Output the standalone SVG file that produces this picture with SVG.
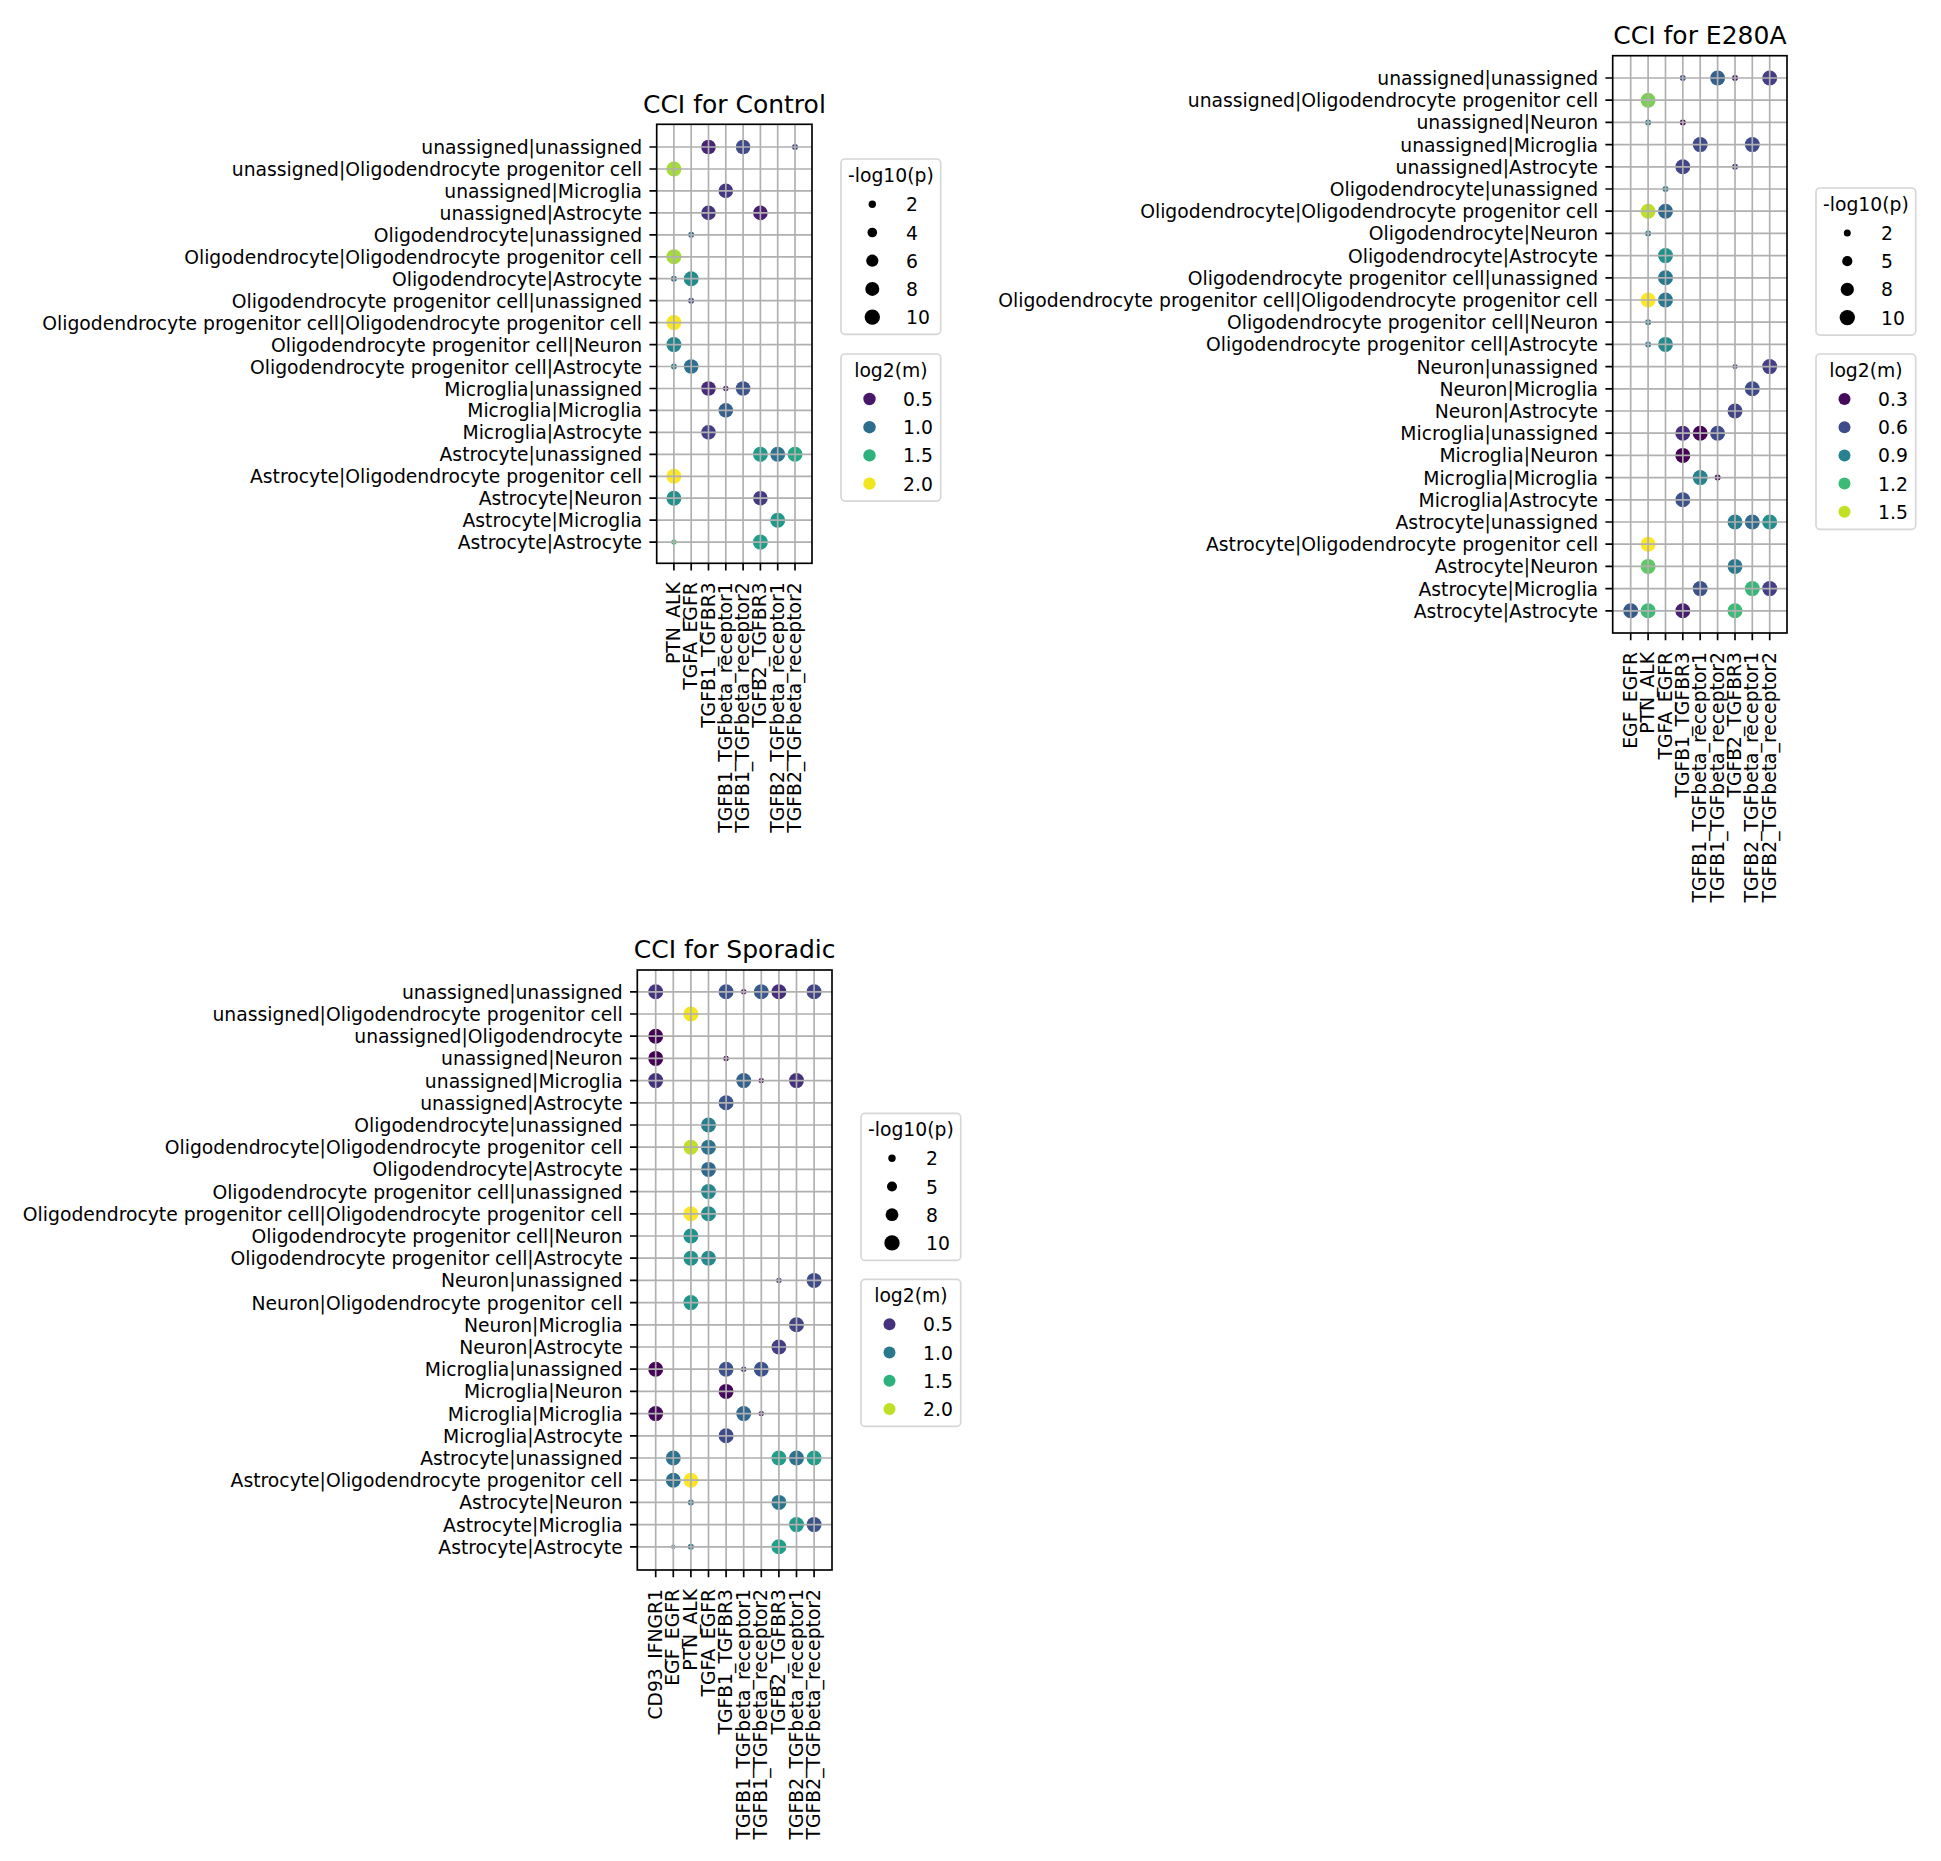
<svg xmlns="http://www.w3.org/2000/svg" width="1941" height="1861" viewBox="0 0 1941 1861">
<style>
text{font-family:"DejaVu Sans","Liberation Sans",sans-serif;font-size:18.75px;fill:#000}
.yl{text-anchor:end}
.xl{text-anchor:end}
.title{font-size:25px;text-anchor:middle}
.lt{text-anchor:middle}
.grid{fill:none;stroke:#b0b0b0;stroke-width:1.67}
.spine{fill:none;stroke:#000;stroke-width:1.67}
.tick{fill:none;stroke:#000;stroke-width:1.67}
.leg{fill:#fff;fill-opacity:0.8;stroke:#d6d6d6;stroke-width:1.67}
</style>
<rect width="1941" height="1861" fill="#fff"/>

<!-- ===================== CONTROL ===================== -->
<g id="panel-control">
<text class="title" x="734.4" y="112.8">CCI for Control</text>
<g id="control-dots">
<circle cx="708.5" cy="147" r="7.3" fill="#482475"/>
<circle cx="743.1" cy="147" r="7.3" fill="#3e4a89"/>
<circle cx="795.0" cy="147" r="3" fill="#3e4a89"/>
<circle cx="673.9" cy="169" r="7.5" fill="#a5db36"/>
<circle cx="725.8" cy="190.9" r="7.3" fill="#453781"/>
<circle cx="708.5" cy="212.9" r="7.3" fill="#46337f"/>
<circle cx="760.4" cy="212.9" r="7.3" fill="#481f70"/>
<circle cx="691.2" cy="234.8" r="3" fill="#31688e"/>
<circle cx="673.9" cy="256.8" r="7.5" fill="#a5db36"/>
<circle cx="673.9" cy="278.7" r="3" fill="#31688e"/>
<circle cx="691.2" cy="278.7" r="7.5" fill="#228c8d"/>
<circle cx="691.2" cy="300.7" r="3" fill="#3e4a89"/>
<circle cx="673.9" cy="322.6" r="7.5" fill="#f8e621"/>
<circle cx="673.9" cy="344.6" r="7.5" fill="#25858e"/>
<circle cx="673.9" cy="366.5" r="3" fill="#2a788e"/>
<circle cx="691.2" cy="366.5" r="7.3" fill="#2e6e8e"/>
<circle cx="708.5" cy="388.5" r="7.3" fill="#482878"/>
<circle cx="725.8" cy="388.5" r="2.7" fill="#481769"/>
<circle cx="743.1" cy="388.5" r="7.3" fill="#3b528b"/>
<circle cx="725.8" cy="410.4" r="7.3" fill="#34608d"/>
<circle cx="708.5" cy="432.4" r="7.3" fill="#433e85"/>
<circle cx="760.4" cy="454.3" r="7.5" fill="#1f998a"/>
<circle cx="777.7" cy="454.3" r="7.5" fill="#2c718e"/>
<circle cx="795.0" cy="454.3" r="7.5" fill="#22a884"/>
<circle cx="673.9" cy="476.3" r="7.5" fill="#fde725"/>
<circle cx="673.9" cy="498.2" r="7.5" fill="#21918c"/>
<circle cx="760.4" cy="498.2" r="7.3" fill="#443a83"/>
<circle cx="777.7" cy="520.2" r="7.5" fill="#1f998a"/>
<circle cx="673.9" cy="542.1" r="2.7" fill="#3bbb75"/>
<circle cx="760.4" cy="542.1" r="7.5" fill="#1f9e89"/>
</g>
<path class="grid" d="M673.9 124.3V563.3M691.2 124.3V563.3M708.5 124.3V563.3M725.8 124.3V563.3M743.1 124.3V563.3M760.4 124.3V563.3M777.7 124.3V563.3M795 124.3V563.3
M656.7 147H812M656.7 169H812M656.7 190.9H812M656.7 212.9H812M656.7 234.8H812M656.7 256.8H812M656.7 278.7H812M656.7 300.7H812M656.7 322.6H812M656.7 344.6H812M656.7 366.5H812M656.7 388.5H812M656.7 410.4H812M656.7 432.4H812M656.7 454.3H812M656.7 476.3H812M656.7 498.2H812M656.7 520.2H812M656.7 542.1H812"/>
<path class="tick" d="M649.4 147H656.7M649.4 169H656.7M649.4 190.9H656.7M649.4 212.9H656.7M649.4 234.8H656.7M649.4 256.8H656.7M649.4 278.7H656.7M649.4 300.7H656.7M649.4 322.6H656.7M649.4 344.6H656.7M649.4 366.5H656.7M649.4 388.5H656.7M649.4 410.4H656.7M649.4 432.4H656.7M649.4 454.3H656.7M649.4 476.3H656.7M649.4 498.2H656.7M649.4 520.2H656.7M649.4 542.1H656.7
M673.9 563.3V570.6M691.2 563.3V570.6M708.5 563.3V570.6M725.8 563.3V570.6M743.1 563.3V570.6M760.4 563.3V570.6M777.7 563.3V570.6M795 563.3V570.6"/>
<rect class="spine" x="656.7" y="124.3" width="155.3" height="439"/>
<g id="control-ylabels">
<text class="yl" x="642.1" y="154">unassigned|unassigned</text>
<text class="yl" x="642.1" y="176">unassigned|Oligodendrocyte progenitor cell</text>
<text class="yl" x="642.1" y="197.9">unassigned|Microglia</text>
<text class="yl" x="642.1" y="219.9">unassigned|Astrocyte</text>
<text class="yl" x="642.1" y="241.8">Oligodendrocyte|unassigned</text>
<text class="yl" x="642.1" y="263.8">Oligodendrocyte|Oligodendrocyte progenitor cell</text>
<text class="yl" x="642.1" y="285.7">Oligodendrocyte|Astrocyte</text>
<text class="yl" x="642.1" y="307.7">Oligodendrocyte progenitor cell|unassigned</text>
<text class="yl" x="642.1" y="329.6">Oligodendrocyte progenitor cell|Oligodendrocyte progenitor cell</text>
<text class="yl" x="642.1" y="351.6">Oligodendrocyte progenitor cell|Neuron</text>
<text class="yl" x="642.1" y="373.5">Oligodendrocyte progenitor cell|Astrocyte</text>
<text class="yl" x="642.1" y="395.5">Microglia|unassigned</text>
<text class="yl" x="642.1" y="417.4">Microglia|Microglia</text>
<text class="yl" x="642.1" y="439.4">Microglia|Astrocyte</text>
<text class="yl" x="642.1" y="461.3">Astrocyte|unassigned</text>
<text class="yl" x="642.1" y="483.3">Astrocyte|Oligodendrocyte progenitor cell</text>
<text class="yl" x="642.1" y="505.2">Astrocyte|Neuron</text>
<text class="yl" x="642.1" y="527.2">Astrocyte|Microglia</text>
<text class="yl" x="642.1" y="549.1">Astrocyte|Astrocyte</text>
</g>
<g id="control-xlabels">
<text class="xl" transform="translate(679.9 582.3) rotate(-90)">PTN_ALK</text>
<text class="xl" transform="translate(697.2 582.3) rotate(-90)">TGFA_EGFR</text>
<text class="xl" transform="translate(714.5 582.3) rotate(-90)">TGFB1_TGFBR3</text>
<text class="xl" transform="translate(731.8 582.3) rotate(-90)">TGFB1_TGFbeta_receptor1</text>
<text class="xl" transform="translate(749.1 582.3) rotate(-90)">TGFB1_TGFbeta_receptor2</text>
<text class="xl" transform="translate(766.4 582.3) rotate(-90)">TGFB2_TGFBR3</text>
<text class="xl" transform="translate(783.7 582.3) rotate(-90)">TGFB2_TGFbeta_receptor1</text>
<text class="xl" transform="translate(801 582.3) rotate(-90)">TGFB2_TGFbeta_receptor2</text>
</g>
<g id="control-legend-size">
<rect class="leg" x="841" y="159" width="99.7" height="175.3" rx="4"/>
<text class="lt" x="890.9" y="182">-log10(p)</text>
<circle cx="872.3" cy="204.3" r="3.7"/><text x="906" y="211.3">2</text>
<circle cx="872.3" cy="232.5" r="4.8"/><text x="906" y="239.5">4</text>
<circle cx="872.3" cy="260.7" r="6.1"/><text x="906" y="267.7">6</text>
<circle cx="872.3" cy="288.9" r="7"/><text x="906" y="295.9">8</text>
<circle cx="872.3" cy="317.1" r="7.7"/><text x="906" y="324.1">10</text>
</g>
<g id="control-legend-hue">
<rect class="leg" x="841" y="354" width="99.7" height="147.1" rx="4"/>
<text class="lt" x="890.9" y="377">log2(m)</text>
<circle cx="869.5" cy="399" r="6.2" fill="#481769"/><text x="903" y="406">0.5</text>
<circle cx="869.5" cy="427.2" r="6.2" fill="#2f6d8e"/><text x="903" y="434.2">1.0</text>
<circle cx="869.5" cy="455.4" r="6.2" fill="#2db27d"/><text x="903" y="462.4">1.5</text>
<circle cx="869.5" cy="483.6" r="6.2" fill="#f1e51d"/><text x="903" y="490.6">2.0</text>
</g>
</g>

<!-- ===================== E280A ===================== -->
<g id="panel-e280a">
<text class="title" x="1699.9" y="44.2">CCI for E280A</text>
<g id="e280a-dots">
<circle cx="1682.8" cy="78" r="3" fill="#3e4a89"/>
<circle cx="1717.6" cy="78" r="7.5" fill="#355f8d"/>
<circle cx="1735.0" cy="78" r="3" fill="#481769"/>
<circle cx="1769.7" cy="78" r="7.5" fill="#433e85"/>
<circle cx="1648.1" cy="100.2" r="7.5" fill="#7ad151"/>
<circle cx="1648.1" cy="122.4" r="3" fill="#2a788e"/>
<circle cx="1682.8" cy="122.4" r="3" fill="#440154"/>
<circle cx="1700.2" cy="144.6" r="7.5" fill="#3e4a89"/>
<circle cx="1752.3" cy="144.6" r="7.5" fill="#3e4a89"/>
<circle cx="1682.8" cy="166.8" r="7.5" fill="#414487"/>
<circle cx="1735.0" cy="166.8" r="3" fill="#433e85"/>
<circle cx="1665.5" cy="189" r="3" fill="#2a788e"/>
<circle cx="1648.1" cy="211.2" r="7.5" fill="#bddf26"/>
<circle cx="1665.5" cy="211.2" r="7.5" fill="#31688e"/>
<circle cx="1648.1" cy="233.4" r="3" fill="#2a788e"/>
<circle cx="1665.5" cy="255.6" r="7.5" fill="#21918c"/>
<circle cx="1665.5" cy="277.8" r="7.5" fill="#2a788e"/>
<circle cx="1648.1" cy="300" r="7.5" fill="#fde725"/>
<circle cx="1665.5" cy="300" r="7.5" fill="#2a788e"/>
<circle cx="1648.1" cy="322.2" r="3" fill="#2a788e"/>
<circle cx="1648.1" cy="344.4" r="3" fill="#2a788e"/>
<circle cx="1665.5" cy="344.4" r="7.5" fill="#238a8d"/>
<circle cx="1735.0" cy="366.6" r="2.5" fill="#46337f"/>
<circle cx="1769.7" cy="366.6" r="7.5" fill="#433e85"/>
<circle cx="1752.3" cy="388.8" r="7.5" fill="#3e4a89"/>
<circle cx="1735.0" cy="411" r="7.5" fill="#414487"/>
<circle cx="1682.8" cy="433.2" r="7.5" fill="#472d7b"/>
<circle cx="1700.2" cy="433.2" r="7.5" fill="#450457"/>
<circle cx="1717.6" cy="433.2" r="7.5" fill="#3e4a89"/>
<circle cx="1682.8" cy="455.4" r="7.5" fill="#440154"/>
<circle cx="1700.2" cy="477.6" r="7.5" fill="#26828e"/>
<circle cx="1717.6" cy="477.6" r="3" fill="#440154"/>
<circle cx="1682.8" cy="499.8" r="7.5" fill="#3b528b"/>
<circle cx="1735.0" cy="522" r="7.5" fill="#287d8e"/>
<circle cx="1752.3" cy="522" r="7.5" fill="#31688e"/>
<circle cx="1769.7" cy="522" r="7.5" fill="#21908d"/>
<circle cx="1648.1" cy="544.2" r="7.5" fill="#fde725"/>
<circle cx="1648.1" cy="566.4" r="7.5" fill="#5ec962"/>
<circle cx="1735.0" cy="566.4" r="7.5" fill="#2a788e"/>
<circle cx="1700.2" cy="588.6" r="7.5" fill="#3b528b"/>
<circle cx="1752.3" cy="588.6" r="7.5" fill="#35b779"/>
<circle cx="1769.7" cy="588.6" r="7.5" fill="#433e85"/>
<circle cx="1630.7" cy="610.8" r="7.5" fill="#38598c"/>
<circle cx="1648.1" cy="610.8" r="7.5" fill="#3bbb75"/>
<circle cx="1682.8" cy="610.8" r="7.5" fill="#481f70"/>
<circle cx="1735.0" cy="610.8" r="7.5" fill="#3bbb75"/>
</g>
<path class="grid" d="M1630.7 55.7V633M1648.1 55.7V633M1665.5 55.7V633M1682.8 55.7V633M1700.2 55.7V633M1717.6 55.7V633M1735 55.7V633M1752.3 55.7V633M1769.7 55.7V633
M1612.7 78H1787M1612.7 100.2H1787M1612.7 122.4H1787M1612.7 144.6H1787M1612.7 166.8H1787M1612.7 189H1787M1612.7 211.2H1787M1612.7 233.4H1787M1612.7 255.6H1787M1612.7 277.8H1787M1612.7 300H1787M1612.7 322.2H1787M1612.7 344.4H1787M1612.7 366.6H1787M1612.7 388.8H1787M1612.7 411H1787M1612.7 433.2H1787M1612.7 455.4H1787M1612.7 477.6H1787M1612.7 499.8H1787M1612.7 522H1787M1612.7 544.2H1787M1612.7 566.4H1787M1612.7 588.6H1787M1612.7 610.8H1787"/>
<path class="tick" d="M1605.4 78H1612.7M1605.4 100.2H1612.7M1605.4 122.4H1612.7M1605.4 144.6H1612.7M1605.4 166.8H1612.7M1605.4 189H1612.7M1605.4 211.2H1612.7M1605.4 233.4H1612.7M1605.4 255.6H1612.7M1605.4 277.8H1612.7M1605.4 300H1612.7M1605.4 322.2H1612.7M1605.4 344.4H1612.7M1605.4 366.6H1612.7M1605.4 388.8H1612.7M1605.4 411H1612.7M1605.4 433.2H1612.7M1605.4 455.4H1612.7M1605.4 477.6H1612.7M1605.4 499.8H1612.7M1605.4 522H1612.7M1605.4 544.2H1612.7M1605.4 566.4H1612.7M1605.4 588.6H1612.7M1605.4 610.8H1612.7
M1630.7 633V640.3M1648.1 633V640.3M1665.5 633V640.3M1682.8 633V640.3M1700.2 633V640.3M1717.6 633V640.3M1735 633V640.3M1752.3 633V640.3M1769.7 633V640.3"/>
<rect class="spine" x="1612.7" y="55.7" width="174.3" height="577.3"/>
<g id="e280a-ylabels">
<text class="yl" x="1598.1" y="85">unassigned|unassigned</text>
<text class="yl" x="1598.1" y="107.2">unassigned|Oligodendrocyte progenitor cell</text>
<text class="yl" x="1598.1" y="129.4">unassigned|Neuron</text>
<text class="yl" x="1598.1" y="151.6">unassigned|Microglia</text>
<text class="yl" x="1598.1" y="173.8">unassigned|Astrocyte</text>
<text class="yl" x="1598.1" y="196">Oligodendrocyte|unassigned</text>
<text class="yl" x="1598.1" y="218.2">Oligodendrocyte|Oligodendrocyte progenitor cell</text>
<text class="yl" x="1598.1" y="240.4">Oligodendrocyte|Neuron</text>
<text class="yl" x="1598.1" y="262.6">Oligodendrocyte|Astrocyte</text>
<text class="yl" x="1598.1" y="284.8">Oligodendrocyte progenitor cell|unassigned</text>
<text class="yl" x="1598.1" y="307">Oligodendrocyte progenitor cell|Oligodendrocyte progenitor cell</text>
<text class="yl" x="1598.1" y="329.2">Oligodendrocyte progenitor cell|Neuron</text>
<text class="yl" x="1598.1" y="351.4">Oligodendrocyte progenitor cell|Astrocyte</text>
<text class="yl" x="1598.1" y="373.6">Neuron|unassigned</text>
<text class="yl" x="1598.1" y="395.8">Neuron|Microglia</text>
<text class="yl" x="1598.1" y="418">Neuron|Astrocyte</text>
<text class="yl" x="1598.1" y="440.2">Microglia|unassigned</text>
<text class="yl" x="1598.1" y="462.4">Microglia|Neuron</text>
<text class="yl" x="1598.1" y="484.6">Microglia|Microglia</text>
<text class="yl" x="1598.1" y="506.8">Microglia|Astrocyte</text>
<text class="yl" x="1598.1" y="529">Astrocyte|unassigned</text>
<text class="yl" x="1598.1" y="551.2">Astrocyte|Oligodendrocyte progenitor cell</text>
<text class="yl" x="1598.1" y="573.4">Astrocyte|Neuron</text>
<text class="yl" x="1598.1" y="595.6">Astrocyte|Microglia</text>
<text class="yl" x="1598.1" y="617.8">Astrocyte|Astrocyte</text>
</g>
<g id="e280a-xlabels">
<text class="xl" transform="translate(1636.7 652) rotate(-90)">EGF_EGFR</text>
<text class="xl" transform="translate(1654.1 652) rotate(-90)">PTN_ALK</text>
<text class="xl" transform="translate(1671.5 652) rotate(-90)">TGFA_EGFR</text>
<text class="xl" transform="translate(1688.8 652) rotate(-90)">TGFB1_TGFBR3</text>
<text class="xl" transform="translate(1706.2 652) rotate(-90)">TGFB1_TGFbeta_receptor1</text>
<text class="xl" transform="translate(1723.6 652) rotate(-90)">TGFB1_TGFbeta_receptor2</text>
<text class="xl" transform="translate(1741 652) rotate(-90)">TGFB2_TGFBR3</text>
<text class="xl" transform="translate(1758.3 652) rotate(-90)">TGFB2_TGFbeta_receptor1</text>
<text class="xl" transform="translate(1775.7 652) rotate(-90)">TGFB2_TGFbeta_receptor2</text>
</g>
<g id="e280a-legend-size">
<rect class="leg" x="1816" y="188" width="99.7" height="147.1" rx="4"/>
<text class="lt" x="1865.9" y="211">-log10(p)</text>
<circle cx="1847.3" cy="233" r="3.5"/><text x="1881" y="240">2</text>
<circle cx="1847.3" cy="261.2" r="5.1"/><text x="1881" y="268.2">5</text>
<circle cx="1847.3" cy="289.4" r="6.6"/><text x="1881" y="296.4">8</text>
<circle cx="1847.3" cy="317.6" r="7.7"/><text x="1881" y="324.6">10</text>
</g>
<g id="e280a-legend-hue">
<rect class="leg" x="1816" y="354" width="99.7" height="175.3" rx="4"/>
<text class="lt" x="1865.9" y="377">log2(m)</text>
<circle cx="1844.5" cy="399" r="6" fill="#450a5c"/><text x="1878" y="406">0.3</text>
<circle cx="1844.5" cy="427.2" r="6" fill="#3e4a89"/><text x="1878" y="434.2">0.6</text>
<circle cx="1844.5" cy="455.4" r="6" fill="#26828e"/><text x="1878" y="462.4">0.9</text>
<circle cx="1844.5" cy="483.6" r="6" fill="#3bbb75"/><text x="1878" y="490.6">1.2</text>
<circle cx="1844.5" cy="511.8" r="6" fill="#c2df23"/><text x="1878" y="518.8">1.5</text>
</g>
</g>

<!-- ===================== SPORADIC ===================== -->
<g id="panel-sporadic">
<text class="title" x="734.7" y="958">CCI for Sporadic</text>
<g id="sporadic-dots">
<circle cx="655.7" cy="991.8" r="7.5" fill="#46337f"/>
<circle cx="726.1" cy="991.8" r="7.5" fill="#3b528b"/>
<circle cx="743.7" cy="991.8" r="2.7" fill="#481769"/>
<circle cx="761.3" cy="991.8" r="7.5" fill="#38598c"/>
<circle cx="778.9" cy="991.8" r="7.5" fill="#472d7b"/>
<circle cx="814.1" cy="991.8" r="7.5" fill="#414487"/>
<circle cx="690.9" cy="1014" r="7.5" fill="#f4e61e"/>
<circle cx="655.7" cy="1036.2" r="7.5" fill="#440154"/>
<circle cx="655.7" cy="1058.4" r="7.5" fill="#440154"/>
<circle cx="726.1" cy="1058.4" r="2.7" fill="#440154"/>
<circle cx="655.7" cy="1080.6" r="7.5" fill="#46307e"/>
<circle cx="743.7" cy="1080.6" r="7.5" fill="#33638d"/>
<circle cx="761.3" cy="1080.6" r="2.7" fill="#440154"/>
<circle cx="796.5" cy="1080.6" r="7.5" fill="#46307e"/>
<circle cx="726.1" cy="1102.8" r="7.5" fill="#3a548c"/>
<circle cx="708.5" cy="1125" r="7.5" fill="#277f8e"/>
<circle cx="690.9" cy="1147.2" r="7.5" fill="#c0df25"/>
<circle cx="708.5" cy="1147.2" r="7.5" fill="#2c718e"/>
<circle cx="708.5" cy="1169.4" r="7.5" fill="#30698e"/>
<circle cx="708.5" cy="1191.6" r="7.5" fill="#24878e"/>
<circle cx="690.9" cy="1213.8" r="7.5" fill="#fde725"/>
<circle cx="708.5" cy="1213.8" r="7.5" fill="#228c8d"/>
<circle cx="690.9" cy="1236" r="7.5" fill="#20928c"/>
<circle cx="690.9" cy="1258.2" r="7.5" fill="#20928c"/>
<circle cx="708.5" cy="1258.2" r="7.5" fill="#238a8d"/>
<circle cx="778.9" cy="1280.4" r="2.7" fill="#414487"/>
<circle cx="814.1" cy="1280.4" r="7.5" fill="#3e4a89"/>
<circle cx="690.9" cy="1302.6" r="7.5" fill="#1f968b"/>
<circle cx="796.5" cy="1324.8" r="7.5" fill="#414487"/>
<circle cx="778.9" cy="1347" r="7.5" fill="#433e85"/>
<circle cx="655.7" cy="1369.2" r="7.5" fill="#450457"/>
<circle cx="726.1" cy="1369.2" r="7.5" fill="#3b528b"/>
<circle cx="743.7" cy="1369.2" r="2.7" fill="#472d7b"/>
<circle cx="761.3" cy="1369.2" r="7.5" fill="#3b528b"/>
<circle cx="726.1" cy="1391.4" r="7.5" fill="#46085c"/>
<circle cx="655.7" cy="1413.6" r="7.5" fill="#46085c"/>
<circle cx="743.7" cy="1413.6" r="7.5" fill="#31688e"/>
<circle cx="761.3" cy="1413.6" r="2.7" fill="#481769"/>
<circle cx="726.1" cy="1435.8" r="7.5" fill="#3e4a89"/>
<circle cx="673.3" cy="1458" r="7.5" fill="#2c718e"/>
<circle cx="778.9" cy="1458" r="7.5" fill="#1f9e89"/>
<circle cx="796.5" cy="1458" r="7.5" fill="#2c718e"/>
<circle cx="814.1" cy="1458" r="7.5" fill="#1f9e89"/>
<circle cx="673.3" cy="1480.2" r="7.5" fill="#2c718e"/>
<circle cx="690.9" cy="1480.2" r="7.5" fill="#fde725"/>
<circle cx="690.9" cy="1502.4" r="3" fill="#2a788e"/>
<circle cx="778.9" cy="1502.4" r="7.5" fill="#2a768e"/>
<circle cx="796.5" cy="1524.6" r="7.5" fill="#1f9a8a"/>
<circle cx="814.1" cy="1524.6" r="7.5" fill="#3b528b"/>
<circle cx="673.3" cy="1546.8" r="2.2" fill="#5b8fb0"/>
<circle cx="690.9" cy="1546.8" r="3" fill="#2a788e"/>
<circle cx="778.9" cy="1546.8" r="7.5" fill="#1fa088"/>
</g>
<path class="grid" d="M655.7 970V1570M673.3 970V1570M690.9 970V1570M708.5 970V1570M726.1 970V1570M743.7 970V1570M761.3 970V1570M778.9 970V1570M796.5 970V1570M814.1 970V1570
M637.3 991.8H832M637.3 1014H832M637.3 1036.2H832M637.3 1058.4H832M637.3 1080.6H832M637.3 1102.8H832M637.3 1125H832M637.3 1147.2H832M637.3 1169.4H832M637.3 1191.6H832M637.3 1213.8H832M637.3 1236H832M637.3 1258.2H832M637.3 1280.4H832M637.3 1302.6H832M637.3 1324.8H832M637.3 1347H832M637.3 1369.2H832M637.3 1391.4H832M637.3 1413.6H832M637.3 1435.8H832M637.3 1458H832M637.3 1480.2H832M637.3 1502.4H832M637.3 1524.6H832M637.3 1546.8H832"/>
<path class="tick" d="M630 991.8H637.3M630 1014H637.3M630 1036.2H637.3M630 1058.4H637.3M630 1080.6H637.3M630 1102.8H637.3M630 1125H637.3M630 1147.2H637.3M630 1169.4H637.3M630 1191.6H637.3M630 1213.8H637.3M630 1236H637.3M630 1258.2H637.3M630 1280.4H637.3M630 1302.6H637.3M630 1324.8H637.3M630 1347H637.3M630 1369.2H637.3M630 1391.4H637.3M630 1413.6H637.3M630 1435.8H637.3M630 1458H637.3M630 1480.2H637.3M630 1502.4H637.3M630 1524.6H637.3M630 1546.8H637.3
M655.7 1570V1577.3M673.3 1570V1577.3M690.9 1570V1577.3M708.5 1570V1577.3M726.1 1570V1577.3M743.7 1570V1577.3M761.3 1570V1577.3M778.9 1570V1577.3M796.5 1570V1577.3M814.1 1570V1577.3"/>
<rect class="spine" x="637.3" y="970" width="194.7" height="600"/>
<g id="sporadic-ylabels">
<text class="yl" x="622.7" y="998.8">unassigned|unassigned</text>
<text class="yl" x="622.7" y="1021">unassigned|Oligodendrocyte progenitor cell</text>
<text class="yl" x="622.7" y="1043.2">unassigned|Oligodendrocyte</text>
<text class="yl" x="622.7" y="1065.4">unassigned|Neuron</text>
<text class="yl" x="622.7" y="1087.6">unassigned|Microglia</text>
<text class="yl" x="622.7" y="1109.8">unassigned|Astrocyte</text>
<text class="yl" x="622.7" y="1132">Oligodendrocyte|unassigned</text>
<text class="yl" x="622.7" y="1154.2">Oligodendrocyte|Oligodendrocyte progenitor cell</text>
<text class="yl" x="622.7" y="1176.4">Oligodendrocyte|Astrocyte</text>
<text class="yl" x="622.7" y="1198.6">Oligodendrocyte progenitor cell|unassigned</text>
<text class="yl" x="622.7" y="1220.8">Oligodendrocyte progenitor cell|Oligodendrocyte progenitor cell</text>
<text class="yl" x="622.7" y="1243">Oligodendrocyte progenitor cell|Neuron</text>
<text class="yl" x="622.7" y="1265.2">Oligodendrocyte progenitor cell|Astrocyte</text>
<text class="yl" x="622.7" y="1287.4">Neuron|unassigned</text>
<text class="yl" x="622.7" y="1309.6">Neuron|Oligodendrocyte progenitor cell</text>
<text class="yl" x="622.7" y="1331.8">Neuron|Microglia</text>
<text class="yl" x="622.7" y="1354">Neuron|Astrocyte</text>
<text class="yl" x="622.7" y="1376.2">Microglia|unassigned</text>
<text class="yl" x="622.7" y="1398.4">Microglia|Neuron</text>
<text class="yl" x="622.7" y="1420.6">Microglia|Microglia</text>
<text class="yl" x="622.7" y="1442.8">Microglia|Astrocyte</text>
<text class="yl" x="622.7" y="1465">Astrocyte|unassigned</text>
<text class="yl" x="622.7" y="1487.2">Astrocyte|Oligodendrocyte progenitor cell</text>
<text class="yl" x="622.7" y="1509.4">Astrocyte|Neuron</text>
<text class="yl" x="622.7" y="1531.6">Astrocyte|Microglia</text>
<text class="yl" x="622.7" y="1553.8">Astrocyte|Astrocyte</text>
</g>
<g id="sporadic-xlabels">
<text class="xl" transform="translate(661.7 1589) rotate(-90)">CD93_IFNGR1</text>
<text class="xl" transform="translate(679.3 1589) rotate(-90)">EGF_EGFR</text>
<text class="xl" transform="translate(696.9 1589) rotate(-90)">PTN_ALK</text>
<text class="xl" transform="translate(714.5 1589) rotate(-90)">TGFA_EGFR</text>
<text class="xl" transform="translate(732.1 1589) rotate(-90)">TGFB1_TGFBR3</text>
<text class="xl" transform="translate(749.7 1589) rotate(-90)">TGFB1_TGFbeta_receptor1</text>
<text class="xl" transform="translate(767.3 1589) rotate(-90)">TGFB1_TGFbeta_receptor2</text>
<text class="xl" transform="translate(784.9 1589) rotate(-90)">TGFB2_TGFBR3</text>
<text class="xl" transform="translate(802.5 1589) rotate(-90)">TGFB2_TGFbeta_receptor1</text>
<text class="xl" transform="translate(820.1 1589) rotate(-90)">TGFB2_TGFbeta_receptor2</text>
</g>
<g id="sporadic-legend-size">
<rect class="leg" x="861" y="1113.3" width="99.7" height="147.1" rx="4"/>
<text class="lt" x="910.9" y="1136.3">-log10(p)</text>
<circle cx="892" cy="1158.3" r="3.7"/><text x="926" y="1165.3">2</text>
<circle cx="892" cy="1186.5" r="5"/><text x="926" y="1193.5">5</text>
<circle cx="892" cy="1214.7" r="6.4"/><text x="926" y="1221.7">8</text>
<circle cx="892" cy="1242.9" r="7.7"/><text x="926" y="1249.9">10</text>
</g>
<g id="sporadic-legend-hue">
<rect class="leg" x="861" y="1279.3" width="99.7" height="147.1" rx="4"/>
<text class="lt" x="910.9" y="1302.3">log2(m)</text>
<circle cx="889.5" cy="1324.3" r="6" fill="#46327e"/><text x="923" y="1331.3">0.5</text>
<circle cx="889.5" cy="1352.5" r="6" fill="#2a788e"/><text x="923" y="1359.5">1.0</text>
<circle cx="889.5" cy="1380.7" r="6" fill="#2db27d"/><text x="923" y="1387.7">1.5</text>
<circle cx="889.5" cy="1408.9" r="6" fill="#bddf26"/><text x="923" y="1415.9">2.0</text>
</g>
</g>
</svg>
